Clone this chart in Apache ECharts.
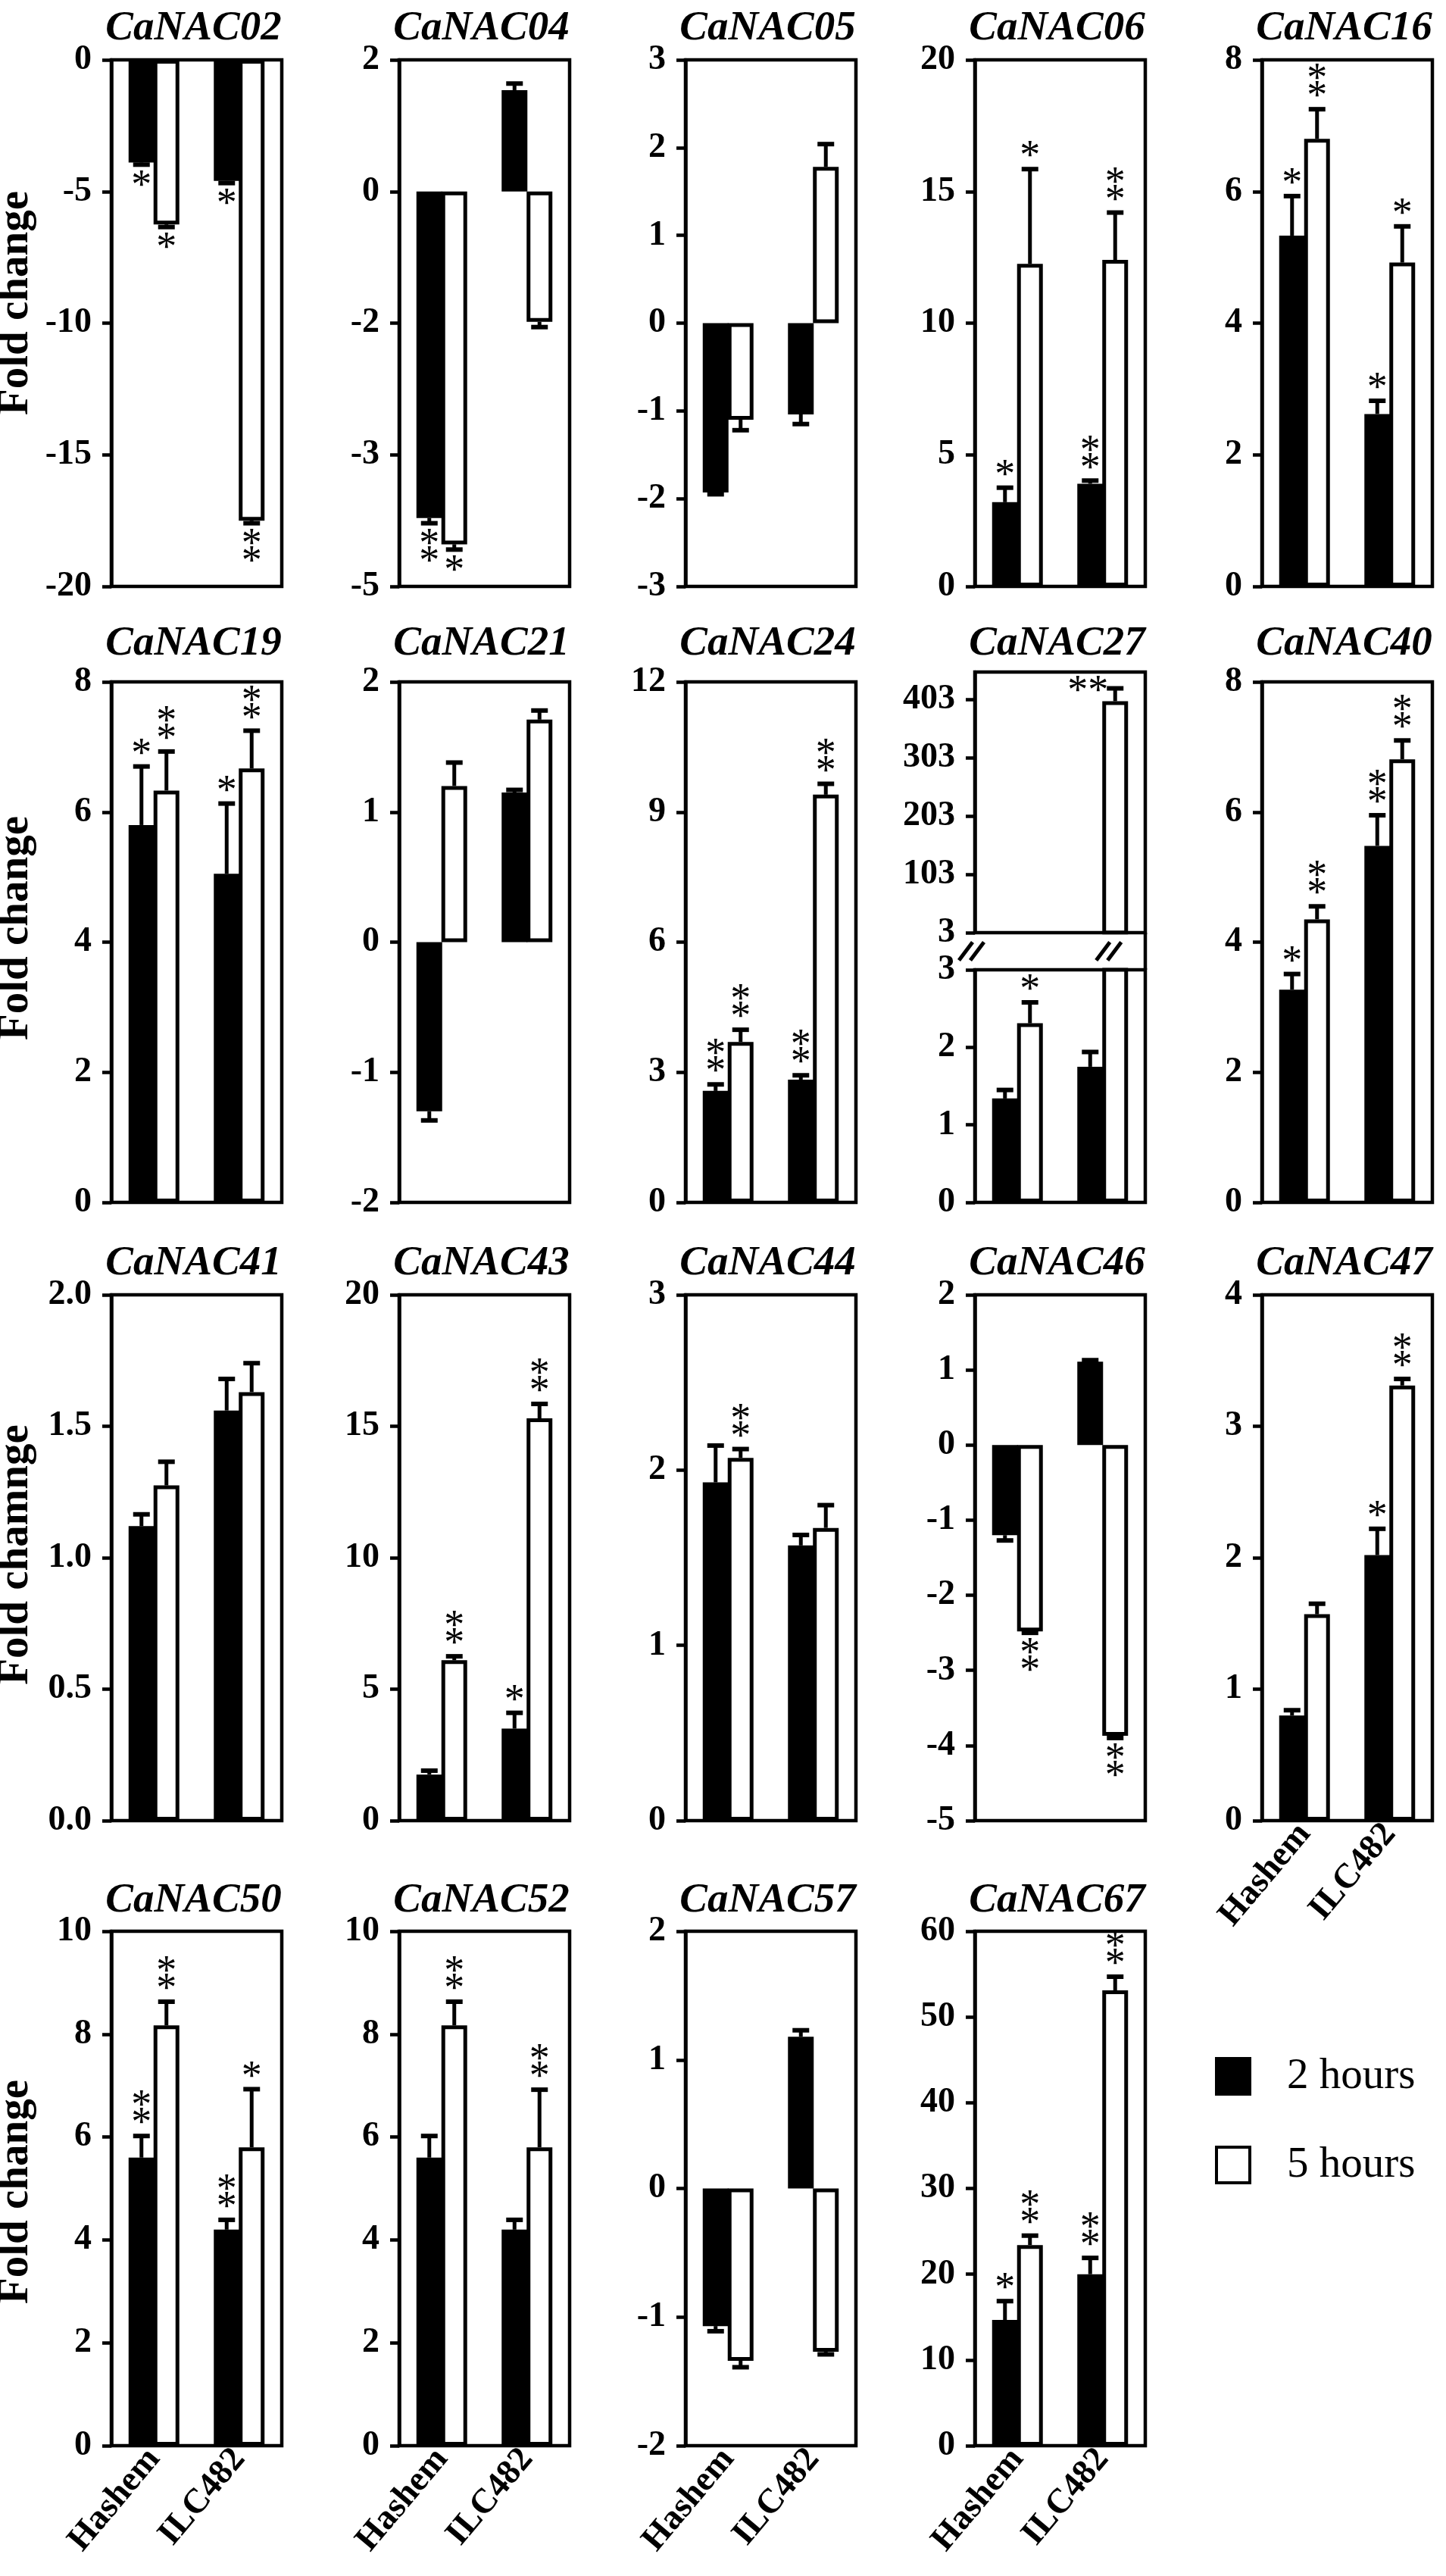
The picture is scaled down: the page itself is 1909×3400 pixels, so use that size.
<!DOCTYPE html>
<html><head><meta charset="utf-8">
<script src="https://cdn.jsdelivr.net/npm/echarts@6/dist/echarts.min.js"></script>
<style>html,body{margin:0;padding:0;background:#fff}#c{width:1909px;height:3400px}</style>
</head><body><div id="c"></div>
<script>
// ---------------- DATA ----------------
const genes = ['CaNAC02','CaNAC04','CaNAC05','CaNAC06','CaNAC16',
               'CaNAC19','CaNAC21','CaNAC24','CaNAC27','CaNAC40',
               'CaNAC41','CaNAC43','CaNAC44','CaNAC46','CaNAC47',
               'CaNAC50','CaNAC52','CaNAC57','CaNAC67'];
const cultivars = ['Hashem','ILC482'];
const timepoints = ['2 hours','5 hours'];
// values per gene: [Hashem, ILC482]  (CaNAC04 in the panel's own evenly spaced tick units)
const value2h = [[-3.9,-4.6],[-2.48,0.77],[-1.93,-1.04],[3.2,3.9],[5.33,2.62],
                 [5.8,5.05],[-1.3,1.15],[2.57,2.83],[1.34,1.75],[3.27,5.48],
                 [1.12,1.56],[1.75,3.5],[1.93,1.57],[-1.2,1.11],[0.8,2.02],
                 [5.6,4.2],[5.6,4.2],[-1.07,1.18],[14.66,20.0]];
const value5h = [[-6.25,-17.5],[-2.68,-0.99],[-1.1,1.78],[12.25,12.4],[6.8,4.92],
                 [6.33,6.67],[1.2,1.71],[3.7,9.4],[2.31,400],[4.35,6.81],
                 [1.275,1.63],[6.1,15.3],[2.07,1.67],[-2.48,-3.87],[1.57,3.31],
                 [8.17,5.8],[8.17,5.8],[-1.34,-1.27],[23.4,53.1]];
const error2h = [[0.08,0.08],[0.04,0.05],[0.02,0.11],[0.55,0.12],[0.6,0.2],
                 [0.9,1.08],[0.07,0.02],[0.15,0.1],[0.11,0.19],[0.24,0.47],
                 [0.045,0.12],[0.15,0.6],[0.21,0.06],[0.07,0.02],[0.04,0.2],
                 [0.42,0.19],[0.42,0.19],[0.04,0.05],[2.2,1.9]];
const error5h = [[0.1,0.1],[0.04,0.04],[0.12,0.26],[3.6,1.8],[0.45,0.55],
                 [0.6,0.58],[0.18,0.07],[0.28,0.25],[0.27,22],[0.2,0.29],
                 [0.09,0.11],[0.15,0.55],[0.05,0.13],[0.02,0.03],[0.08,0.05],
                 [0.46,1.13],[0.46,1.12],[0.05,0.02],[1.1,1.6]];
const signif2h = [['*','*'],['**',''],['',''],['*','**'],['*','*'],
                  ['*','*'],['',''],['**','**'],['',''],['*','**'],
                  ['',''],['','*'],['',''],['',''],['','*'],
                  ['**','**'],['',''],['',''],['*','**']];
const signif5h = [['*','**'],['*',''],['',''],['*','**'],['**','*'],
                  ['**','**'],['',''],['**','**'],['*','**'],['**','**'],
                  ['',''],['**','**'],['**',''],['**','**'],['','**'],
                  ['**','*'],['**','**'],['',''],['**','**']];
const yTicks = [[-20,-15,-10,-5,0],[-3,-2,-1,0,1],[-3,-2,-1,0,1,2,3],[0,5,10,15,20],[0,2,4,6,8],
                [0,2,4,6,8],[-2,-1,0,1,2],[0,3,6,9,12],[0,1,2,3],[0,2,4,6,8],
                [0,0.5,1,1.5,2],[0,5,10,15,20],[0,1,2,3],[-5,-4,-3,-2,-1,0,1,2],[0,1,2,3,4],
                [0,2,4,6,8,10],[0,2,4,6,8,10],[-2,-1,0,1,2],[0,10,20,30,40,50,60]];
const yTickLabels = {1:['-5','-3','-2','0','2'], 10:['0.0','0.5','1.0','1.5','2.0']};
const brokenUpperTicks = [3,103,203,303,403];   // CaNAC27 upper part
const brokenUpperMax = 450;
const yTitles = ['Fold change','Fold change','Fold chamnge','Fold change'];

// ---------------- LAYOUT / STYLE ----------------
const FONT = '"Liberation Serif","Times New Roman",serif';
const LW = 4.5;
const BAR_W = 34, BAR_GAP = -0.03;
const HALF = BAR_W * (1 + BAR_GAP) / 2;
const STAR_SIZE = 54;
const STAR_FONT = STAR_SIZE + 'px ' + FONT;
const COL_X = [147, 527, 905, 1287, 1666];
const PANEL_W = 225;
const ROWS = [[79, 774], [900, 1587], [1709, 2403], [2549, 3228]];
const TITLE_Y = [38, 850, 1668, 2509];
const YNAME_Y = [400, 1225, 2052, 2893];

const option = {animation:false, backgroundColor:'#fff', grid:[], xAxis:[], yAxis:[], series:[], graphic:[]};

function renderErr(params, api) {
  const cat = api.value(0), si = api.value(1), v = api.value(2), e = api.value(3), n = api.value(4), inline = api.value(5);
  const p0 = api.coord([cat, v]);
  const x = p0[0] + (si === 0 ? -HALF : HALF);
  const dir = v >= 0 ? 1 : -1;
  const ye = api.coord([cat, v + dir * e])[1];
  const ch = [];
  const off = STAR_SIZE * 0.13;
  if (e > 0) {
    ch.push({type:'line', shape:{x1:x, y1:p0[1], x2:x, y2:ye}, style:{stroke:'#000', lineWidth:5}});
    ch.push({type:'line', shape:{x1:x-11, y1:ye, x2:x+11, y2:ye}, style:{stroke:'#000', lineWidth:6}});
  }
  if (n > 0) {
    if (inline) {
      ch.push({type:'text', style:{text:'*'.repeat(n), x:x-36, y:ye+off-2, align:'center', verticalAlign:'middle', font:STAR_FONT, fill:'#000'}});
    } else {
      for (let k = 0; k < n; k++) {
        ch.push({type:'text', style:{text:'*', x:x, y:ye - dir*(22 + 23*k) + off, align:'center', verticalAlign:'middle', font:STAR_FONT, fill:'#000'}});
      }
    }
  }
  return {type:'group', children:ch};
}

function addGrid(rect, ticks, labels, max, showX) {
  const g = option.grid.length;
  option.grid.push({left:rect.x, top:rect.y, width:rect.w, height:rect.h, show:true,
    borderColor:'#000', borderWidth:LW, backgroundColor:'rgba(0,0,0,0)'});
  option.xAxis.push({type:'category', gridIndex:g, data:cultivars, position:'bottom',
    axisLine:{show:false, onZero:false}, axisTick:{show:false}, splitLine:{show:false},
    axisLabel:{show:showX, interval:0, rotate:50, margin:10, fontFamily:FONT, fontWeight:'bold', fontSize:46, color:'#000'}});
  option.yAxis.push({type:'value', gridIndex:g, min:ticks[0], max:max, interval:ticks[1]-ticks[0],
    splitLine:{show:false},
    axisLine:{show:true, onZero:false, lineStyle:{color:'#000', width:LW}},
    axisTick:{show:true, inside:false, length:12, customValues:ticks, lineStyle:{color:'#000', width:LW}},
    axisLabel:{customValues:ticks, margin:26, fontFamily:FONT, fontWeight:'bold', fontSize:46, color:'#000',
      formatter:(v) => { const i = ticks.findIndex(t => Math.abs(t - v) < 1e-9); return i < 0 ? '' : labels[i]; }}});
  return g;
}

function addSeries(g, d2, d5, items) {
  option.series.push({type:'bar', name:timepoints[0], xAxisIndex:g, yAxisIndex:g, data:d2, barWidth:BAR_W,
    barGap:(BAR_GAP*100)+'%', itemStyle:{color:'#000', borderColor:'#000', borderWidth:3}, z:2, silent:true});
  option.series.push({type:'bar', name:timepoints[1], xAxisIndex:g, yAxisIndex:g, data:d5, barWidth:BAR_W,
    barGap:(BAR_GAP*100)+'%', itemStyle:{color:'#fff', borderColor:'#000', borderWidth:5}, z:3, silent:true});
  option.series.push({type:'custom', xAxisIndex:g, yAxisIndex:g, data:items, renderItem:renderErr,
    encode:{x:0, y:2}, z:4, silent:true});
}

function makeItems(i, keep, inlineFlag) {
  const out = [];
  for (let c = 0; c < 2; c++) {
    const a = [c, 0, value2h[i][c], error2h[i][c], signif2h[i][c].length, inlineFlag];
    const b = [c, 1, value5h[i][c], error5h[i][c], signif5h[i][c].length, inlineFlag];
    if (keep(a[2])) out.push(a);
    if (keep(b[2])) out.push(b);
  }
  return out;
}

genes.forEach((gene, i) => {
  const row = Math.floor(i / 5), col = i % 5;
  const x = COL_X[col], top = ROWS[row][0], bot = ROWS[row][1];
  const ticks = yTicks[i];
  const labels = yTickLabels[i] || ticks.map(String);
  const showX = row === 3 || gene === 'CaNAC47';
  option.graphic.push({type:'text', x:x + PANEL_W/2 - 4, y:TITLE_Y[row], silent:true,
    style:{text:gene, font:'italic bold 55px ' + FONT, fill:'#000', align:'center', verticalAlign:'middle', textAlign:'center', textVerticalAlign:'middle'}});
  if (gene === 'CaNAC27') {
    const upTop = 887, upBot = 1231, loTop = 1280;
    const gu = addGrid({x:x, y:upTop, w:PANEL_W, h:upBot-upTop}, brokenUpperTicks, brokenUpperTicks.map(String), brokenUpperMax, false);
    addSeries(gu, value2h[i].map(v => v >= 3 ? v : '-'), value5h[i].map(v => v >= 3 ? v : '-'), makeItems(i, v => v >= 3, 1));
    const gl = addGrid({x:x, y:loTop, w:PANEL_W, h:bot-loTop}, ticks, labels, ticks[ticks.length-1], showX);
    addSeries(gl, value2h[i], value5h[i], makeItems(i, v => v <= 3, 0));
    // break marks and right border across the gap
    const ym = (upBot + loTop) / 2;
    const barX = x + PANEL_W*0.75 + HALF;
    [x - 4, barX - 8].forEach(cx => {
      [-8, 7].forEach(dx => {
        option.graphic.push({type:'line', silent:true, shape:{x1:cx+dx-9, y1:ym+12, x2:cx+dx+9, y2:ym-12}, style:{stroke:'#000', lineWidth:5}});
      });
    });
    option.graphic.push({type:'line', silent:true, shape:{x1:x+PANEL_W, y1:upBot, x2:x+PANEL_W, y2:loTop}, style:{stroke:'#000', lineWidth:LW}});
  } else {
    const g = addGrid({x:x, y:top, w:PANEL_W, h:bot-top}, ticks, labels, ticks[ticks.length-1], showX);
    addSeries(g, value2h[i], value5h[i], makeItems(i, () => true, 0));
  }
});

// y-axis titles
yTitles.forEach((t, r) => {
  option.graphic.push({type:'text', x:21, y:YNAME_Y[r], rotation:Math.PI/2, silent:true,
    style:{text:t, font:'bold 57px ' + FONT, fill:'#000', align:'center', verticalAlign:'middle', textAlign:'center', textVerticalAlign:'middle'}});
});

// legend
option.graphic.push({type:'rect', silent:true, shape:{x:1604, y:2715, width:48, height:51}, style:{fill:'#000'}});
option.graphic.push({type:'rect', silent:true, shape:{x:1606, y:2834, width:44, height:47}, style:{fill:'#fff', stroke:'#000', lineWidth:4}});
option.graphic.push({type:'text', x:1699, y:2741, silent:true, style:{text:timepoints[0], font:'57px ' + FONT, fill:'#000', align:'left', verticalAlign:'middle', textAlign:'left', textVerticalAlign:'middle'}});
option.graphic.push({type:'text', x:1699, y:2858, silent:true, style:{text:timepoints[1], font:'57px ' + FONT, fill:'#000', align:'left', verticalAlign:'middle', textAlign:'left', textVerticalAlign:'middle'}});

const chart = echarts.init(document.getElementById('c'), null, {renderer:'canvas'});
chart.setOption(option);
</script>
</body></html>
